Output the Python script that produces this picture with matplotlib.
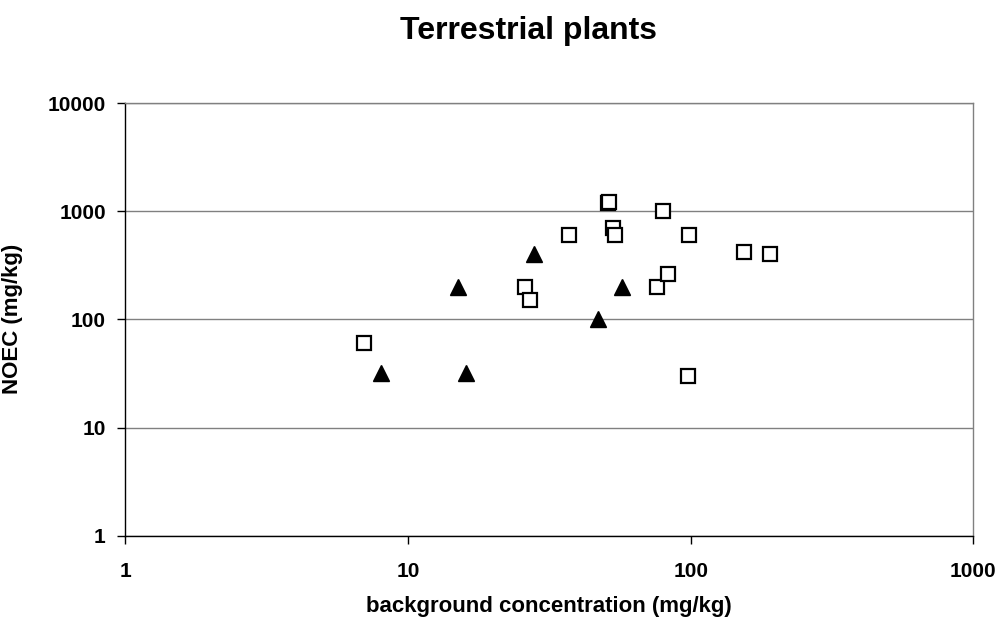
import matplotlib.pyplot as plt

plt.rcParams["font.family"] = ["Liberation Sans", "DejaVu Sans"]
plt.rcParams["font.weight"] = "bold"

# open squares
sq_x = [7, 26, 27, 37, 51, 51.3, 53, 54, 80, 76, 83, 99, 98, 154, 191]
sq_y = [60, 200, 150, 600, 1200, 1205, 700, 600, 1000, 200, 260, 600, 30, 420, 400]

# filled triangles
tri_x = [8, 16, 15, 28, 57, 47]
tri_y = [32, 32, 200, 400, 200, 100]

ticks = [1, 10, 100, 1000, 10000]

fig = plt.figure(figsize=(10, 6.22), dpi=100)
ax = fig.add_axes([0.1253, 0.1387, 0.848, 0.6957])

ax.plot(sq_x, sq_y, linestyle="none", marker="s", markersize=10.5,
        markerfacecolor="white", markeredgecolor="black", markeredgewidth=1.6,
        zorder=3)
ax.plot(tri_x, tri_y, linestyle="none", marker="^", markersize=11.5,
        markerfacecolor="black", markeredgecolor="black", zorder=3)

ax.set_xscale("log")
ax.set_yscale("log")
ax.set_xlim(1, 1000)
ax.set_ylim(1, 10000)
ax.set_xticks(ticks[:4])
ax.set_xticklabels([str(t) for t in ticks[:4]])
ax.set_yticks(ticks)
ax.set_yticklabels([str(t) for t in ticks])
ax.minorticks_off()

ax.yaxis.grid(True, color="#808080", linewidth=1)
ax.set_axisbelow(True)

ax.spines["left"].set_color("black")
ax.spines["bottom"].set_color("black")
ax.spines["top"].set_color("#808080")
ax.spines["right"].set_color("#808080")
for s in ax.spines.values():
    s.set_linewidth(1)

ax.tick_params(axis="both", direction="out", length=6, width=1, labelsize=15)
ax.tick_params(axis="x", pad=13)
ax.tick_params(axis="y", pad=8)

ax.set_xlabel("background concentration (mg/kg)", fontsize=16, fontweight="bold")
ax.xaxis.set_label_coords(0.5, -0.14)
ax.set_ylabel("NOEC (mg/kg)", fontsize=16, fontweight="bold")
ax.yaxis.set_label_coords(-0.1206, 0.5)

fig.text(0.529, 0.95, "Terrestrial plants", ha="center", va="center",
         fontsize=23, fontweight="bold")

plt.savefig("out.png", dpi=100)
